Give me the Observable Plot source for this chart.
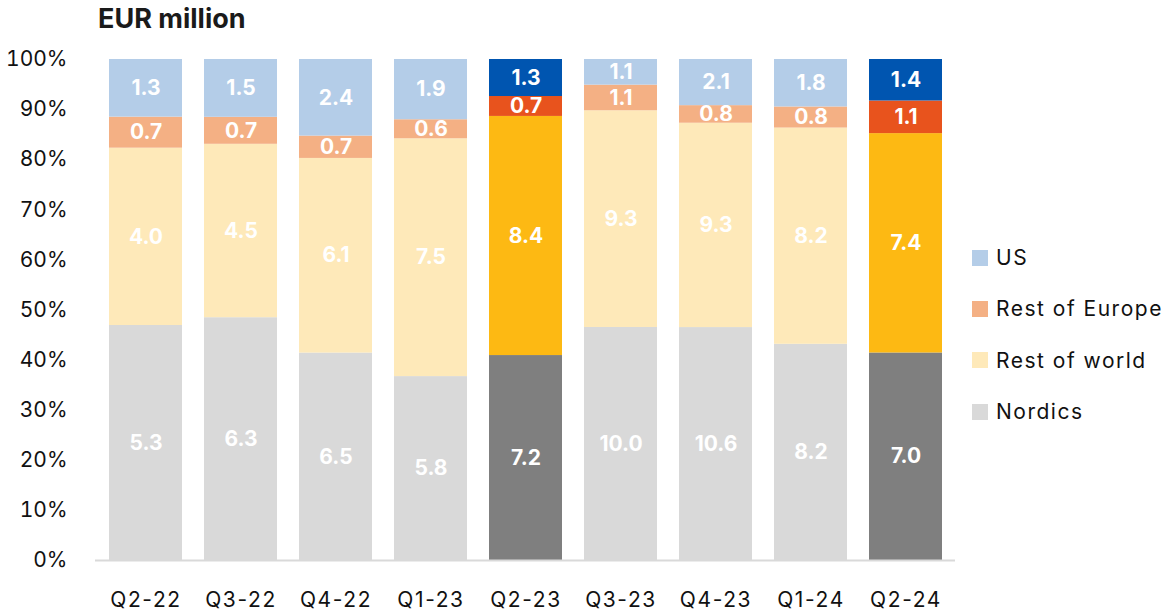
<!DOCTYPE html>
<html>
<head>
<meta charset="utf-8">
<script src="https://cdn.jsdelivr.net/npm/d3@7"></script>
<script src="https://cdn.jsdelivr.net/npm/@observablehq/plot@0.6"></script>
<style>
  body { margin: 0; background: #fff; font-family: Inter, "Noto Sans", sans-serif; }
  #wrap { position: relative; width: 1168px; height: 613px; }
  #title { position: absolute; left: 98px; top: 2px; font-size: 27px; font-weight: 700; color: #1a1a1a; letter-spacing: 0px; }
  #chart { position: absolute; left: 0; top: 38px; }
  #legend { position: absolute; left: 972px; top: 232px; font-size: 21px; color: #111; letter-spacing: 1.5px; }
  .item { display: flex; align-items: center; height: 51.3px; }
  .sw { width: 16px; height: 16px; margin-right: 8px; }
  #chart g[aria-label="x-axis tick label"] { letter-spacing: 1.6px; }
</style>
</head>
<body>
<div id="wrap">
  <div id="title">EUR million</div>
  <div id="chart"></div>
  <div id="legend"></div>
</div>
<script>
const quarters = ["Q2-22","Q3-22","Q4-22","Q1-23","Q2-23","Q3-23","Q4-23","Q1-24","Q2-24"];
const highlighted = ["Q2-23","Q2-24"];
const regions = ["Nordics","Rest of world","Rest of Europe","US"];
const nordics      = [5.3, 6.3, 6.5, 5.8, 7.2, 10.0, 10.6, 8.2, 7.0];
const restOfWorld  = [4.0, 4.5, 6.1, 7.5, 8.4, 9.3, 9.3, 8.2, 7.4];
const restOfEurope = [0.7, 0.7, 0.7, 0.6, 0.7, 1.1, 0.8, 0.8, 1.1];
const us           = [1.3, 1.5, 2.4, 1.9, 1.3, 1.1, 2.1, 1.8, 1.4];
const baseColors = {"Nordics":"#d9d9d9","Rest of world":"#fee9b9","Rest of Europe":"#f4b084","US":"#b4cde8"};
const hiColors   = {"Nordics":"#7f7f7f","Rest of world":"#fdb913","Rest of Europe":"#e8531d","US":"#0055b0"};
const legendOrder = ["US","Rest of Europe","Rest of world","Nordics"];

const series = {"Nordics": nordics, "Rest of world": restOfWorld, "Rest of Europe": restOfEurope, "US": us};
const data = [];
for (const r of regions) {
  quarters.forEach((q, i) => {
    const hi = highlighted.includes(q);
    data.push({quarter: q, region: r, value: series[r][i], key: r + (hi ? " (hl)" : "")});
  });
}
const colorDomain = [...regions, ...regions.map(r => r + " (hl)")];
const colorRange = [...regions.map(r => baseColors[r]), ...regions.map(r => hiColors[r])];

const chart = Plot.plot({
  width: 1168,
  height: 575,
  marginLeft: 95,
  marginRight: 213,
  marginTop: 21,
  marginBottom: 53,
  style: {fontFamily: "Inter, 'Noto Sans', sans-serif", fontSize: "21px", color: "#111"},
  x: {domain: quarters, paddingInner: 0.236, paddingOuter: 0.12, label: null, tickSize: 0, tickPadding: 32},
  y: {domain: [0, 1], ticks: d3.range(0, 1.01, 0.1), tickFormat: d => Math.round(d * 100) + "%", label: null, tickSize: 0, tickPadding: 28},
  color: {domain: colorDomain, range: colorRange},
  marks: [
    Plot.barY(data, Plot.stackY({offset: "normalize", order: regions, x: "quarter", y: "value", z: "region", fill: "key"})),
    Plot.text(data, Plot.stackY({offset: "normalize", order: regions, x: "quarter", y: "value", z: "region",
      text: d => d.value.toFixed(1), fill: "white", fontWeight: 700, fontSize: 21})),
    Plot.ruleY([0], {stroke: "#d9d9d9", strokeWidth: 2})
  ]
});
document.getElementById("chart").appendChild(chart);

const legend = document.getElementById("legend");
for (const r of legendOrder) {
  const item = document.createElement("div");
  item.className = "item";
  const sw = document.createElement("div");
  sw.className = "sw";
  sw.style.background = baseColors[r];
  const label = document.createElement("span");
  label.textContent = r;
  item.appendChild(sw);
  item.appendChild(label);
  legend.appendChild(item);
}
</script>
</body>
</html>
